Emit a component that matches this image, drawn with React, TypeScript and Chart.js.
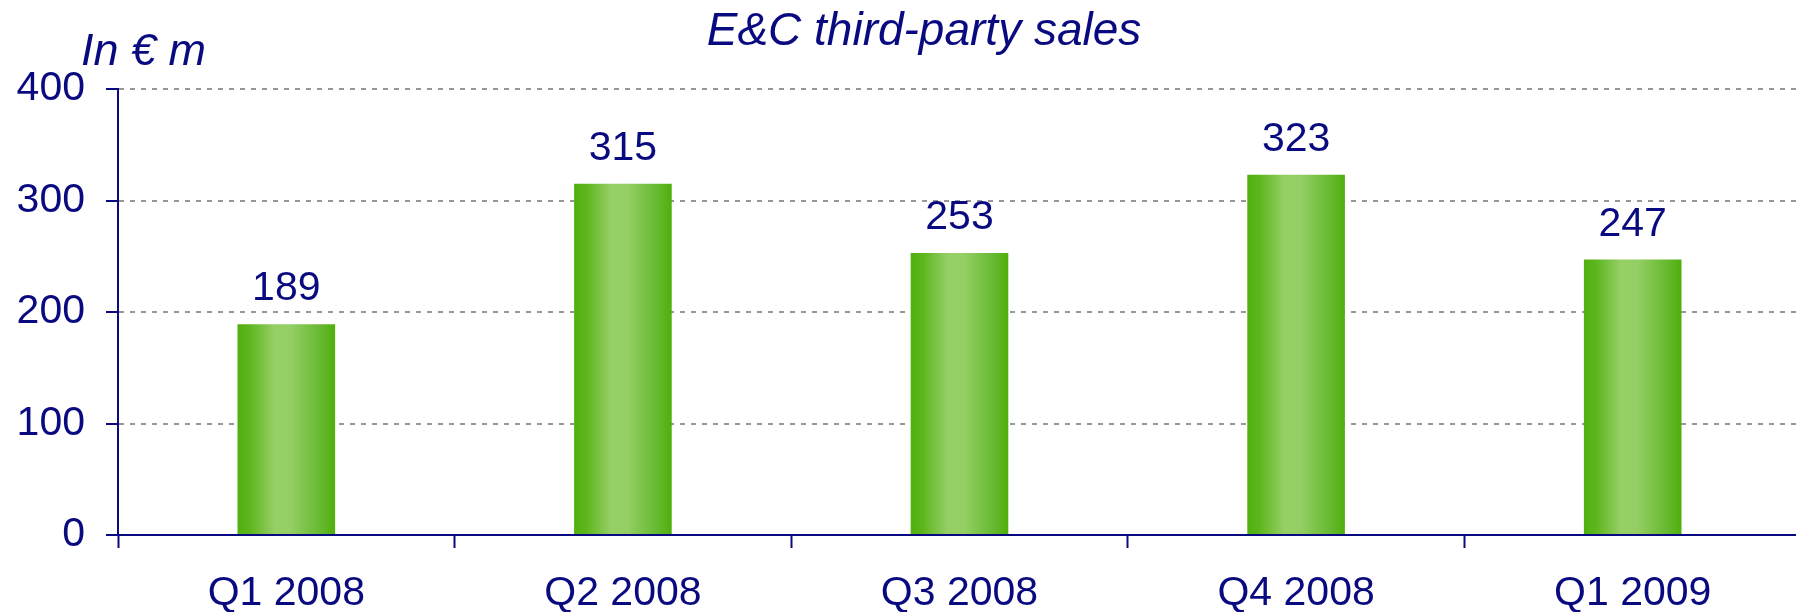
import React, { useEffect, useRef } from "react";
import { Chart, registerables } from "chart.js";

Chart.register(...registerables);

const categories = ["Q1 2008", "Q2 2008", "Q3 2008", "Q4 2008", "Q1 2009"];
const salesValues = [189, 315, 253, 323, 247];
const yTicks = [0, 100, 200, 300, 400];
const chartTitle = "E&C third-party sales";
const unitLabel = "In € m";

const NAVY = "#0a0a80";
const FONT = "'Liberation Sans', Arial, sans-serif";
const BAR_PCT = 0.29;

export default function App() {
  const ref = useRef<HTMLCanvasElement | null>(null);

  useEffect(() => {
    const canvas = ref.current;
    if (!canvas) return;

    const textPlugin = {
      id: "texts",
      afterDraw(chart: any) {
        const ctx = chart.ctx;
        ctx.save();
        ctx.fillStyle = NAVY;
        ctx.textBaseline = "alphabetic";
        ctx.textAlign = "center";
        ctx.font = `italic 46px ${FONT}`;
        ctx.fillText(chartTitle, 924, 45);
        ctx.textAlign = "left";
        ctx.font = `italic 45px ${FONT}`;
        ctx.fillText(unitLabel, 81, 65);
        const meta = chart.getDatasetMeta(0);
        ctx.textAlign = "center";
        ctx.font = `41px ${FONT}`;
        meta.data.forEach((el: any, i: number) => {
          ctx.fillText(String(salesValues[i]), el.x, el.y - 24);
        });
        ctx.restore();
      },
    };

    const chart = new Chart(canvas, {
      type: "bar",
      data: {
        labels: categories,
        datasets: [
          {
            data: salesValues,
            barPercentage: BAR_PCT,
            categoryPercentage: 1,
            borderWidth: 0,
            backgroundColor: (c: any) => {
              const ch = c.chart;
              const xs = ch.scales && ch.scales.x;
              if (!xs || c.dataIndex === undefined) return "#6abf30";
              const cx = xs.getPixelForValue(c.dataIndex);
              const w = (xs.width / categories.length) * BAR_PCT;
              if (!isFinite(cx) || !isFinite(w) || w <= 0) return "#6abf30";
              const g = ch.ctx.createLinearGradient(cx - w / 2, 0, cx + w / 2, 0);
              g.addColorStop(0, "#50b00e");
              g.addColorStop(0.12, "#5cb51c");
              g.addColorStop(0.38, "#96cf66");
              g.addColorStop(0.55, "#94ce64");
              g.addColorStop(0.85, "#66b930");
              g.addColorStop(1, "#4faf0a");
              return g;
            },
          },
        ],
      },
      options: {
        responsive: false,
        animation: false,
        devicePixelRatio: 1,
        layout: { padding: { top: 89, right: 0, left: 0, bottom: 0 } },
        plugins: {
          legend: { display: false },
          tooltip: { enabled: false },
          title: { display: false },
        },
        scales: {
          x: {
            grid: {
              offset: true,
              drawOnChartArea: false,
              drawTicks: true,
              tickLength: 13,
              tickColor: NAVY,
              tickWidth: 2,
            },
            border: { display: true, color: NAVY, width: 2 },
            ticks: {
              color: NAVY,
              font: { family: FONT, size: 41 },
              padding: 21,
              maxRotation: 0,
            },
            afterFit: (s: any) => {
              s.height = 77;
            },
          },
          y: {
            min: 0,
            max: 400,
            afterBuildTicks: (s: any) => {
              s.ticks = yTicks.map((v) => ({ value: v }));
            },
            grid: {
              color: (c: any) => (c.tick && c.tick.value === 0 ? "rgba(0,0,0,0)" : "#979797"),
              lineWidth: 2,
              drawTicks: true,
              tickLength: 12,
              tickColor: NAVY,
              tickWidth: 2,
              tickBorderDash: [],
            },
            border: { display: true, color: NAVY, width: 2, dash: [5, 6] },
            ticks: {
              color: NAVY,
              font: { family: FONT, size: 41 },
              padding: 21,
            },
            afterFit: (s: any) => {
              s.width = 118;
            },
          },
        },
      },
      plugins: [textPlugin],
    });
    chart.update();

    return () => chart.destroy();
  }, []);

  return (
    <div
      style={{
        position: "fixed",
        left: 0,
        top: 0,
        width: 1796,
        height: 612,
        overflow: "hidden",
        background: "#ffffff",
      }}
    >
      <canvas ref={ref} width={1801} height={612} style={{ display: "block" }} />
    </div>
  );
}
